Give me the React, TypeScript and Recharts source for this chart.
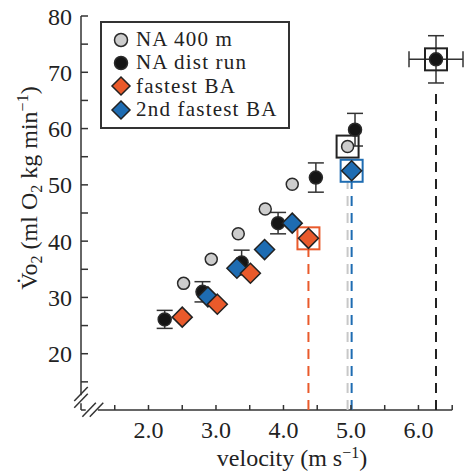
import { ScatterChart, Scatter, XAxis, YAxis, ErrorBar, ReferenceLine, Legend } from "recharts"

// values (velocity in m/s, VO2 in ml O2 kg-1 min-1)
const na400Velocity = [2.52, 2.93, 3.33, 3.73, 4.13, 4.95]
const na400Vo2 = [32.5, 36.8, 41.3, 45.7, 50.1, 56.8]

const distVelocity = [2.24, 2.8, 3.38, 3.92, 4.48, 5.06]
const distVo2 = [26.1, 31.0, 36.2, 43.2, 51.3, 59.8]
const distVo2Err = [1.6, 1.8, 2.2, 1.9, 2.6, 2.9]

const distMaxVelocity = [6.26]
const distMaxVo2 = [72.3]
const distMaxVo2Err = [4.2]
const distMaxVelocityErr = [0.4]

const fastestVelocity = [2.5, 3.02, 3.51, 4.37]
const fastestVo2 = [26.5, 28.8, 34.3, 40.5]

const secondVelocity = [2.88, 3.31, 3.72, 4.13, 5.01]
const secondVo2 = [30.1, 35.2, 38.5, 43.2, 52.5]

const xTicks = [1.5, 2, 2.5, 3, 3.5, 4, 4.5, 5, 5.5, 6, 6.5]
const yTicks = [15, 20, 25, 30, 35, 40, 45, 50, 55, 60, 65, 70, 75, 80]

const legendLabels = ["NA 400 m", "NA dist run", "fastest BA", "2nd fastest BA"]

const GREY = "#cdcdcd"
const BLACK = "#151515"
const ORANGE = "#e95a2b"
const BLUE = "#1e6cb2"
const INK = "#333"
const FONT = "'Liberation Serif', 'DejaVu Serif', serif"
const FS = 24

const zip = (xs: number[], ys: number[], errs?: number[], xerrs?: number[]) =>
  xs.map((x, i) => ({ x, y: ys[i], err: errs ? errs[i] : undefined, xerr: xerrs ? xerrs[i] : undefined }))

const na400 = zip(na400Velocity, na400Vo2)
const dist = zip(distVelocity, distVo2, distVo2Err)
const distMax = zip(distMaxVelocity, distMaxVo2, distMaxVo2Err, distMaxVelocityErr)
const fastest = zip(fastestVelocity, fastestVo2)
const second = zip(secondVelocity, secondVo2)

const last = <T,>(a: T[]) => a[a.length - 1]

// boxed "maximum" points
const boxes = [
  { ...last(na400), color: "#222" },
  { ...last(distMax), color: "#222" },
  { ...last(fastest), color: ORANGE },
  { ...last(second), color: BLUE },
]

const circle = (fill: string, r: number) => (p: any) =>
  <circle cx={p.cx} cy={p.cy} r={r} fill={fill} stroke="#2a2a2a" strokeWidth={1.5} />

const diamond = (fill: string, h: number) => (p: any) =>
  <polygon
    points={`${p.cx},${p.cy - h} ${p.cx + h},${p.cy} ${p.cx},${p.cy + h} ${p.cx - h},${p.cy}`}
    fill={fill}
    stroke="#222"
    strokeWidth={1.5}
  />

const square = (p: any) =>
  <rect x={p.cx - 11} y={p.cy - 11} width={22} height={22} fill="none" stroke={p.payload.color} strokeWidth={2} />

const markers = [
  <circle cx={11} cy={11} r={6.5} fill={GREY} stroke="#2a2a2a" strokeWidth={1.5} />,
  <circle cx={11} cy={11} r={6.5} fill={BLACK} stroke="#2a2a2a" strokeWidth={1.5} />,
  <polygon points="11,2 20,11 11,20 2,11" fill={ORANGE} stroke="#222" strokeWidth={1.5} />,
  <polygon points="11,2 20,11 11,20 2,11" fill={BLUE} stroke="#222" strokeWidth={1.5} />,
]

function LegendBox() {
  return (
    <div
      style={{
        border: `2px solid ${INK}`,
        width: 190,
        height: 108,
        boxSizing: "border-box",
        padding: "5px 0 0 8px",
        fontFamily: FONT,
        fontSize: 21,
        letterSpacing: 1.2,
        color: "#222",
        background: "#fff",
      }}
    >
      {legendLabels.map((label, i) => (
        <div key={label} style={{ display: "flex", alignItems: "center", height: 23.3, lineHeight: "23px" }}>
          <svg width={22} height={22} style={{ flex: "none" }}>{markers[i]}</svg>
          <span style={{ marginLeft: 4, whiteSpace: "nowrap" }}>{label}</span>
        </div>
      ))}
    </div>
  )
}

function YLabel(props: any) {
  const vb = props.viewBox || { x: 0, y: 16, height: 394 }
  const x = vb.x + 37
  const y = vb.y + vb.height / 2 - 25
  return (
    <text x={x} y={y} transform={`rotate(-90, ${x}, ${y})`} textAnchor="middle" fontFamily={FONT} fontSize={FS} fill="#222">
      <tspan>V̇o</tspan>
      <tspan fontSize={16} dy={5}>2</tspan>
      <tspan dy={-5}> (ml O</tspan>
      <tspan fontSize={16} dy={5}>2</tspan>
      <tspan dy={-5}> kg min</tspan>
      <tspan fontSize={16} dy={-9}>−1</tspan>
      <tspan dy={9}>)</tspan>
    </text>
  )
}

function XLabel(props: any) {
  const vb = props.viewBox || { x: 81, y: 410, width: 382 }
  const x = vb.x + vb.width / 2 + 20
  const y = vb.y + 56
  return (
    <text x={x} y={y} textAnchor="middle" fontFamily={FONT} fontSize={FS} fill="#222">
      <tspan>velocity (m s</tspan>
      <tspan fontSize={16} dy={-8}>−1</tspan>
      <tspan dy={8}>)</tspan>
    </text>
  )
}

const axisStroke = { stroke: INK, strokeWidth: 1.5 }
const dash = "10 7"

export default function App() {
  const tickStyle = { fontFamily: FONT, fontSize: FS, fill: "#222" }
  return (
    <div style={{ position: "absolute", left: 0, top: 0, background: "#fff" }}>
      <ScatterChart width={468} height={472} margin={{ top: 16, right: 5, left: 0, bottom: 0 }}>
        <XAxis
          type="number"
          dataKey="x"
          domain={[1, 6.5]}
          ticks={xTicks}
          interval={0}
          axisLine={false}
          tickLine={axisStroke}
          tickSize={-5}
          tickMargin={16}
          height={62}
          tick={tickStyle}
          tickFormatter={(v: number) => (Number.isInteger(v) && v >= 2 ? v.toFixed(1) : "")}
          label={{ content: XLabel }}
        />
        <YAxis
          type="number"
          dataKey="y"
          domain={[10, 80]}
          ticks={yTicks}
          interval={0}
          axisLine={false}
          tickLine={axisStroke}
          tickSize={-7}
          tickMargin={16}
          width={81}
          tick={tickStyle}
          tickFormatter={(v: number) => (v % 10 === 0 ? String(v) : "")}
          label={{ content: YLabel }}
        />

        {/* axes with break marks */}
        <ReferenceLine segment={[{ x: 1, y: 12.6 }, { x: 1, y: 80 }]} {...axisStroke} ifOverflow="visible" />
        <ReferenceLine segment={[{ x: 0.9, y: 11.6 }, { x: 1.1, y: 14.1 }]} {...axisStroke} ifOverflow="visible" />
        <ReferenceLine segment={[{ x: 0.9, y: 10.4 }, { x: 1.1, y: 12.9 }]} {...axisStroke} ifOverflow="visible" />
        <ReferenceLine segment={[{ x: 1, y: 10 }, { x: 1, y: 11.2 }]} {...axisStroke} ifOverflow="visible" />
        <ReferenceLine segment={[{ x: 1, y: 10 }, { x: 1.07, y: 10 }]} {...axisStroke} ifOverflow="visible" />
        <ReferenceLine segment={[{ x: 1.02, y: 8.8 }, { x: 1.22, y: 11.3 }]} {...axisStroke} ifOverflow="visible" />
        <ReferenceLine segment={[{ x: 1.13, y: 8.8 }, { x: 1.33, y: 11.3 }]} {...axisStroke} ifOverflow="visible" />
        <ReferenceLine segment={[{ x: 1.25, y: 10 }, { x: 6.5, y: 10 }]} {...axisStroke} ifOverflow="visible" />

        {/* dashed drop lines from maximal points */}
        <ReferenceLine segment={[{ x: last(na400).x, y: 10 }, { x: last(na400).x, y: last(second).y - 2 }]} stroke="#c8c8c8" strokeWidth={2} strokeDasharray={dash} />
        <ReferenceLine segment={[{ x: last(second).x, y: 10 }, { x: last(second).x, y: last(second).y - 2 }]} stroke={BLUE} strokeWidth={2} strokeDasharray={dash} />
        <ReferenceLine segment={[{ x: last(fastest).x, y: 10 }, { x: last(fastest).x, y: last(fastest).y - 2 }]} stroke={ORANGE} strokeWidth={2} strokeDasharray={dash} />
        <ReferenceLine segment={[{ x: last(distMax).x, y: 10 }, { x: last(distMax).x, y: last(distMax).y - 5 }]} stroke="#222" strokeWidth={2} strokeDasharray={dash} />

        <Scatter name="box" data={boxes} shape={square} isAnimationActive={false} legendType="none" />
        <Scatter name="NA 400 m" data={na400} shape={circle(GREY, 6)} isAnimationActive={false} />
        <Scatter name="NA dist run" data={dist} shape={circle(BLACK, 6.5)} isAnimationActive={false}>
          <ErrorBar dataKey="err" direction="y" width={8} stroke={INK} strokeWidth={1.5} />
        </Scatter>
        <Scatter name="NA dist max" data={distMax} shape={circle(BLACK, 6.5)} isAnimationActive={false} legendType="none">
          <ErrorBar dataKey="err" direction="y" width={8} stroke={INK} strokeWidth={1.5} />
          <ErrorBar dataKey="xerr" direction="x" width={8} stroke={INK} strokeWidth={1.5} />
        </Scatter>
        <Scatter name="2nd fastest BA" data={second} shape={diamond(BLUE, 10)} isAnimationActive={false} />
        <Scatter name="fastest BA" data={fastest} shape={diamond(ORANGE, 10)} isAnimationActive={false} />

        <Legend
          layout="vertical"
          align="center"
          verticalAlign="middle"
          content={LegendBox}
          wrapperStyle={{ left: 100, top: 21, width: 190, height: 108 }}
        />
      </ScatterChart>
    </div>
  )
}
